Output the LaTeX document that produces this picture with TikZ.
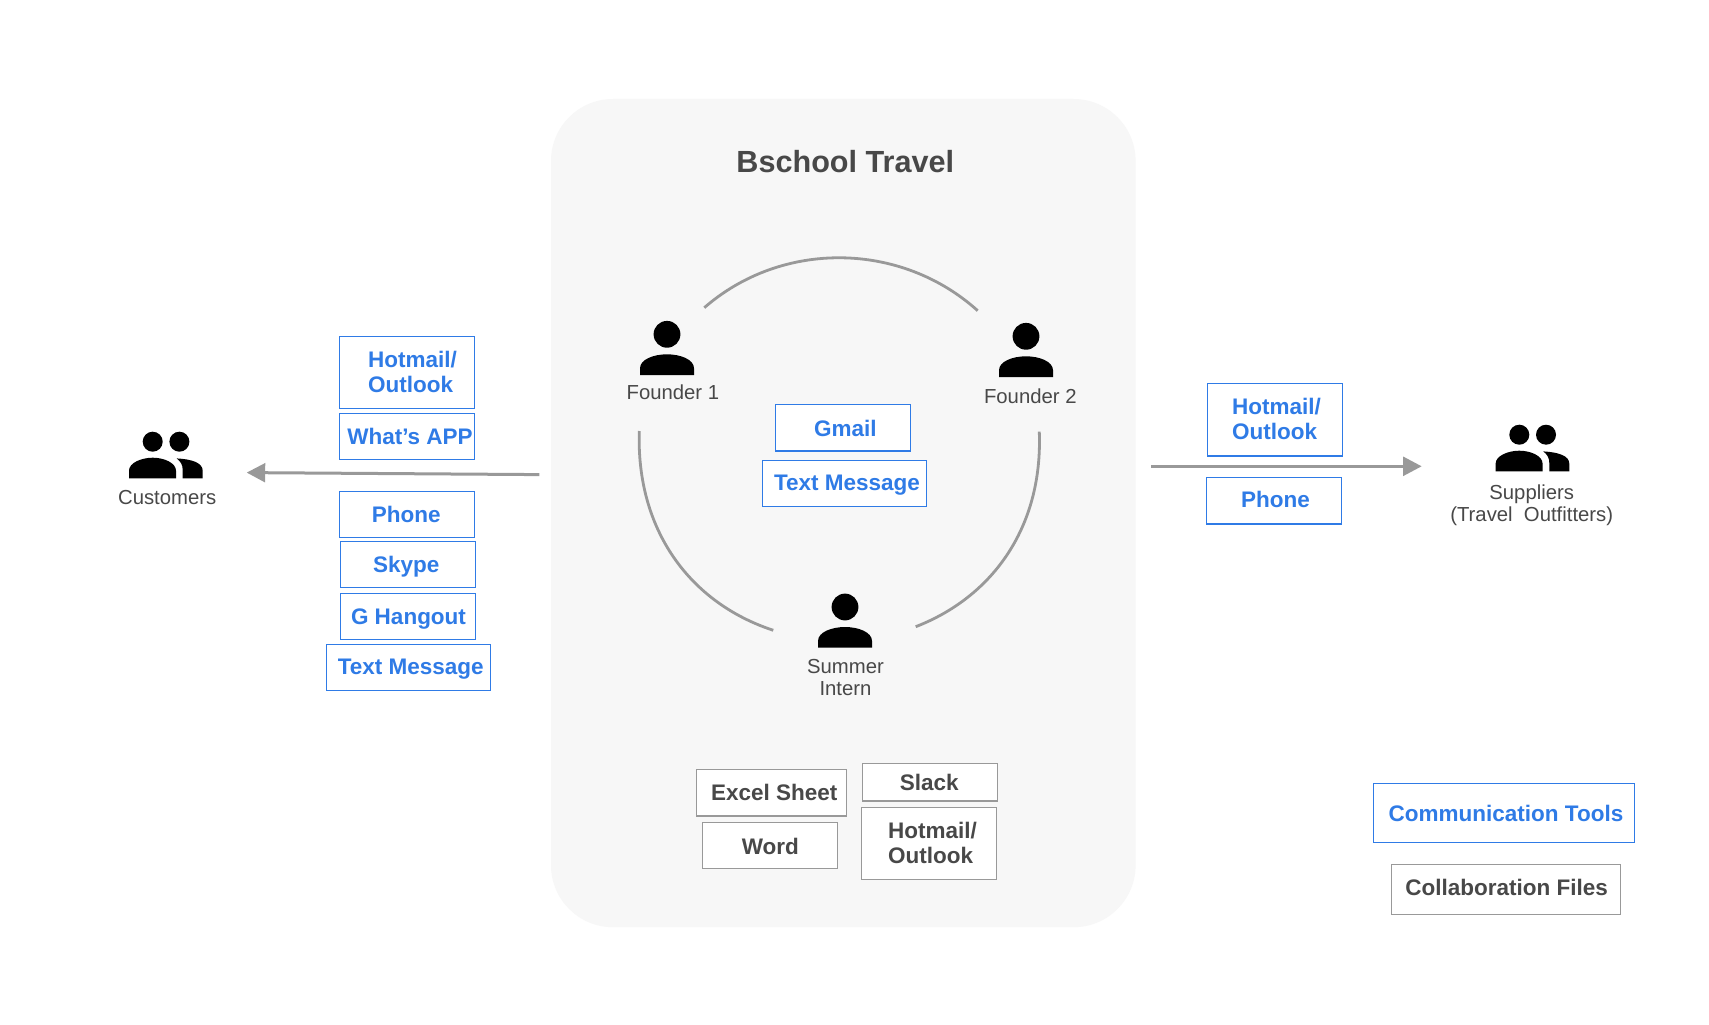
\documentclass[tikz,border=0pt]{standalone}
\usepackage{fontspec}
\setmainfont{Liberation Sans}
\usetikzlibrary{arrows.meta}
\definecolor{toolblue}{HTML}{2F7BE6}
\definecolor{edgegray}{HTML}{999999}
\definecolor{inkgray}{HTML}{484848}
\definecolor{panelgray}{HTML}{F7F7F7}
\tikzset{
  x=1pt,y=-1pt,
  panel/.style={fill=panelgray,rounded corners=62pt},
  ring/.style={draw=edgegray,line width=2.8pt},
  flow/.style={draw=edgegray,line width=3pt,-{Triangle[length=18.5pt,width=18.7pt]}},
  bluebox/.style={draw=toolblue,line width=1.3pt,fill=white,inner sep=0pt,outer sep=0pt,yshift=0.8pt},
  graybox/.style={draw=edgegray,line width=1.3pt,fill=white,inner sep=0pt,outer sep=0pt,yshift=0.8pt},
  boldtext/.style={inner sep=0pt,font=\bfseries\fontsize{22.5}{25}\selectfont,text height=16pt,text depth=0pt,yshift=0.6pt},
  twolines/.style={inner sep=0pt,font=\bfseries\fontsize{22.5}{25}\selectfont,align=left,anchor=west,yshift=0.6pt,xshift=-0.7pt},
  smalltext/.style={inner sep=0pt,text=inkgray,font=\fontsize{20.3}{21.8}\selectfont,align=center},
  person/.pic={
    \fill[black] (0,0) circle[radius=13.4];
    \fill[black] (-27,40.7) -- (-27,34) .. controls (-27,25) and (-13,20) .. (0,20) .. controls (13,20) and (27,25) .. (27,34) -- (27,40.7) -- cycle;
  },
  group/.pic={
    \fill[black] (0,0) circle[radius=10];
    \fill[black] (26.7,0) circle[radius=10];
    \fill[black] (-23.7,36.7) -- (-23.7,29) .. controls (-23.7,21) and (-11,16) .. (0,16) .. controls (11,16) and (23.3,21) .. (23.3,29) -- (23.3,36.7) -- cycle;
    \fill[black] (24,16.7) .. controls (39,17.5) and (50,21) .. (50,29) -- (50,36.7) -- (30,36.7) -- (30,28.3) .. controls (30,23) and (28,20) .. (24,16.7) -- cycle;
  },
}
% name, x1, y1, x2, y2, style
\newcommand{\toolbox}[6]{\node[#6,minimum width=#4pt-#2pt,minimum height=#5pt-#3pt] (#1) at ({(#2+#4)/2},{(#3+#5)/2}) {};}
\begin{document}
\begin{tikzpicture}
\path[use as bounding box,fill=white] (0,0) rectangle (1709,1025);
\fill[panel] (551,99) rectangle (1135.6,927.2);

\node[text=inkgray,inner sep=0pt,font=\bfseries\fontsize{30.6}{34}\selectfont] (title) at (845.3,161.5) {Bschool Travel};

% ring between the three people
\coordinate (topA) at (704.3,307.7);
\coordinate (topB) at (977.7,310.7);
\coordinate (leftA) at (639.3,431);
\coordinate (leftB) at (773.3,630.3);
\coordinate (rightA) at (1039.3,431.7);
\coordinate (rightB) at (915.7,626.7);
\draw[ring] (topA) .. controls (782.2,239.8) and (901,241.5) .. (topB);
\draw[ring] (leftA) .. controls (636,530) and (690,603) .. (leftB);
\draw[ring] (rightA) .. controls (1043,530) and (990,598) .. (rightB);

% people
\pic at (667,334.3) {person};
\pic at (1026,336.3) {person};
\pic at (845,607) {person};
\pic at (152.7,441.7) {group};
\pic at (1519.3,434.7) {group};

\node[smalltext] (founderA) at (672.9,392.3) {Founder 1};
\node[smalltext] (founderB) at (1030.3,395.8) {Founder 2};
\node[smalltext] (intern) at (845.5,677.8) {Summer\\Intern};
\node[smalltext] (customers) at (167.2,498) {Customers};
\node[smalltext] (suppliers) at (1531.7,505.2) {Suppliers\\(Travel\ \ Outfitters)};

% arrows
\coordinate (custEnd) at (539.3,474.6);
\coordinate (custTip) at (246.7,472.6);
\coordinate (supStart) at (1151,466.3);
\coordinate (supTip) at (1421.7,466.3);
\draw[flow] (custEnd) -- (custTip);
\draw[flow] (supStart) -- (supTip);

% customer tools
\toolbox{bHotmailL}{339.3}{337.3}{474.3}{409.3}{bluebox}
\toolbox{bWhatsapp}{339.3}{414.3}{474.3}{460.3}{bluebox}
\toolbox{bPhoneL}{339.3}{492.3}{474.3}{538.3}{bluebox}
\toolbox{bSkype}{340.3}{542.3}{475.3}{588.3}{bluebox}
\toolbox{bHangout}{340.3}{594.3}{475.3}{640.3}{bluebox}
\toolbox{bTextL}{326.3}{645.3}{490.3}{691.3}{bluebox}
\node[twolines,text=toolblue] (tHotmailL) at (368.7,372.8) {Hotmail/\\Outlook};
\node[boldtext,text=toolblue] (tWhatsapp) at (410,437.3) {What’s APP};
\node[boldtext,text=toolblue] (tPhoneL) at (406.3,514.7) {Phone};
\node[boldtext,text=toolblue] (tSkype) at (406.3,565.3) {Skype};
\node[boldtext,text=toolblue] (tHangout) at (408.5,617.3) {G Hangout};
\node[boldtext,text=toolblue] (tTextL) at (410.7,667) {Text Message};

% internal tools
\toolbox{bGmail}{775.3}{405.3}{910.7}{451.7}{bluebox}
\toolbox{bTextM}{762.3}{461.3}{926.7}{507.3}{bluebox}
\node[boldtext,text=toolblue] (tGmail) at (845.3,429.3) {Gmail};
\node[boldtext,text=toolblue] (tTextM) at (847,483.2) {Text Message};

% supplier tools
\toolbox{bHotmailR}{1207.3}{384.3}{1342.7}{456.7}{bluebox}
\toolbox{bPhoneR}{1206.3}{478.3}{1341.7}{524.7}{bluebox}
\node[twolines,text=toolblue] (tHotmailR) at (1232.7,419.5) {Hotmail/\\Outlook};
\node[boldtext,text=toolblue] (tPhoneR) at (1275.4,500.3) {Phone};

% collaboration files
\toolbox{bExcel}{696.3}{770.3}{846.7}{816.7}{graybox}
\toolbox{bWord}{702.3}{823.3}{837.7}{869.3}{graybox}
\toolbox{bSlack}{862.3}{764.3}{997.7}{801.7}{graybox}
\toolbox{bHotmailC}{861.3}{808.3}{996.7}{880.3}{graybox}
\node[boldtext,text=inkgray] (tExcel) at (774.3,792.7) {Excel Sheet};
\node[boldtext,text=inkgray] (tWord) at (770.3,847.3) {Word};
\node[boldtext,text=inkgray] (tSlack) at (929.3,783.3) {Slack};
\node[twolines,text=inkgray] (tHotmailC) at (888.7,843.5) {Hotmail/\\Outlook};

% legend
\toolbox{bComm}{1373.3}{784.3}{1634.7}{843.3}{bluebox}
\toolbox{bCollab}{1391.3}{865.3}{1620.7}{915.3}{graybox}
\node[boldtext,text=toolblue] (tComm) at (1506,813.7) {Communication Tools};
\node[boldtext,text=inkgray] (tCollab) at (1506.7,888.3) {Collaboration Files};
\end{tikzpicture}
\end{document}
